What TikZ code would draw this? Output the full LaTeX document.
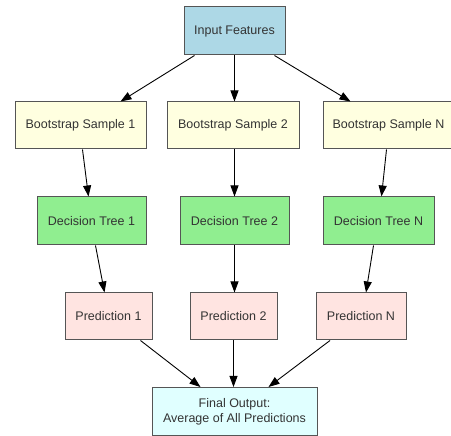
\documentclass[tikz,border=0pt]{standalone}
\usepackage{fontspec}
\setmainfont{Liberation Sans}
\usetikzlibrary{arrows.meta}
\definecolor{bordc}{HTML}{555555}
\definecolor{inblue}{HTML}{ADD8E6}
\definecolor{bsyel}{HTML}{FFFFE0}
\definecolor{dtgreen}{HTML}{90EE90}
\definecolor{prpink}{HTML}{FFE4E1}
\definecolor{fincyan}{HTML}{E0FFFF}
\tikzset{
  box/.style={draw=bordc, line width=1pt, rectangle, inner sep=0pt, align=center,
    font=\fontsize{12.5}{15}\selectfont, text=black!80},
  conn/.style={-{Triangle[length=11pt,width=8pt]}, line width=0.9pt, black},
}
\begin{document}
\begin{tikzpicture}[x=1pt,y=-1pt]
\useasboundingbox[fill=white] (0,0) rectangle (451,436);
\node[box, fill=inblue, minimum width=101pt, minimum height=48pt] (in) at (234.5,31) {Input Features};
\node[box, fill=bsyel, minimum width=131pt, minimum height=47pt] (bs1) at (80.5,125.5) {Bootstrap Sample 1};
\node[box, fill=bsyel, minimum width=132pt, minimum height=47pt] (bs2) at (233,125.5) {Bootstrap Sample 2};
\node[box, fill=bsyel, minimum width=131pt, minimum height=47pt] (bsn) at (388.5,125.5) {Bootstrap Sample N};
\node[box, fill=dtgreen, minimum width=109pt, minimum height=48pt] (dt1) at (91.5,221) {Decision Tree 1};
\node[box, fill=dtgreen, minimum width=109pt, minimum height=48pt] (dt2) at (234.5,221) {Decision Tree 2};
\node[box, fill=dtgreen, minimum width=111pt, minimum height=48pt] (dtn) at (378.5,221) {Decision Tree N};
\node[box, fill=prpink, minimum width=87pt, minimum height=47pt] (p1) at (108.5,316.5) {Prediction 1};
\node[box, fill=prpink, minimum width=87pt, minimum height=47pt] (p2) at (233.5,316.5) {Prediction 2};
\node[box, fill=prpink, minimum width=90pt, minimum height=47pt] (pn) at (361,316.5) {Prediction N};
\node[box, fill=fincyan, minimum width=165pt, minimum height=48pt] (fin) at (234.5,411.5) {Final Output:\\Average of All Predictions};
\draw[conn] ([xshift=-40pt]in.south) -- ([xshift=40pt]bs1.north);
\draw[conn] (in.south) -- (in.south |- bs2.north);
\draw[conn] ([xshift=40pt]in.south) -- ([xshift=-38pt]bsn.north);
\draw[conn] ([xshift=2pt]bs1.south) -- ([xshift=-3pt]dt1.north);
\draw[conn] (bs2.south -| dt2.north) -- (dt2.north);
\draw[conn] ([xshift=-2pt]bsn.south) -- ([xshift=3pt]dtn.north);
\draw[conn] ([xshift=4pt]dt1.south) -- ([xshift=-4pt]p1.north);
\draw[conn] (dt2.south) -- (dt2.south |- p2.north);
\draw[conn] ([xshift=-5pt]dtn.south) -- ([xshift=5pt]pn.north);
\draw[conn] ([xshift=32pt]p1.south) -- ([xshift=-34pt]fin.north);
\draw[conn] (p2.south) -- (p2.south |- fin.north);
\draw[conn] ([xshift=-31pt]pn.south) -- ([xshift=34pt]fin.north);
\end{tikzpicture}
\end{document}
